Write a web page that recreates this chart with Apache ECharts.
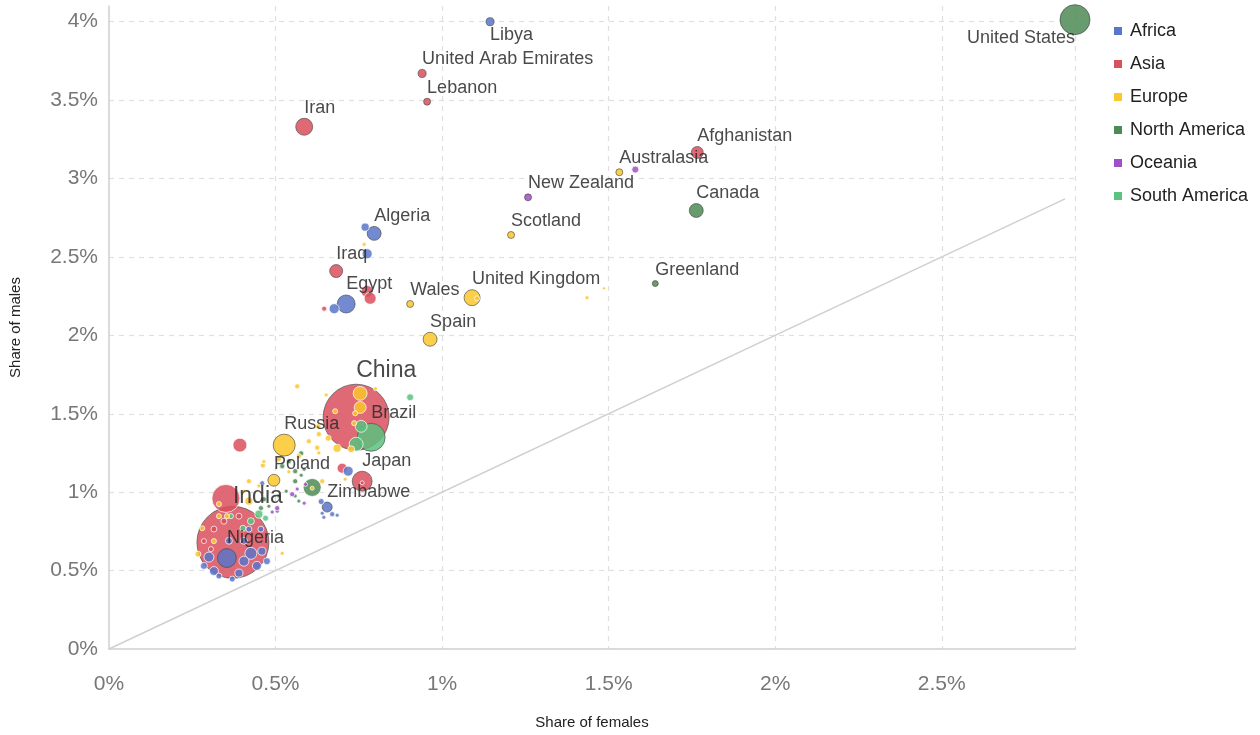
<!DOCTYPE html>
<html><head><meta charset="utf-8">
<script src="https://cdn.jsdelivr.net/npm/echarts@6/dist/echarts.min.js"></script>
<style>html,body{margin:0;padding:0;background:#fff}#c{width:1260px;height:735px}</style>
</head><body><div id="c"></div>
<script>
// [share of females %, share of males %, size value, name]
const africa = [
  [1.144, 4.00, 20, 'Libya'], [0.796, 2.65, 60, 'Algeria'], [0.769, 2.69, 20, ''], [0.775, 2.52, 31, ''],
  [0.712, 2.20, 100, 'Egypt'], [0.676, 2.17, 31, ''], [0.718, 1.134, 31, ''], [0.655, 0.905, 31, 'Zimbabwe'],
  [0.637, 0.94, 11, ''], [0.67, 0.86, 8, ''], [0.685, 0.853, 5, ''], [0.64, 0.866, 5, ''], [0.645, 0.84, 5, ''],
  [0.354, 0.58, 110, 'Nigeria'], [0.30, 0.586, 31, ''], [0.315, 0.497, 25, ''], [0.405, 0.56, 31, ''],
  [0.426, 0.61, 44, ''], [0.444, 0.53, 25, ''], [0.459, 0.624, 20, ''], [0.39, 0.484, 20, ''],
  [0.36, 0.69, 15, ''], [0.405, 0.69, 15, ''], [0.42, 0.764, 11, ''], [0.456, 0.764, 11, ''],
  [0.285, 0.53, 15, ''], [0.474, 0.56, 15, ''], [0.33, 0.465, 11, ''], [0.37, 0.446, 11, ''], [0.46, 1.057, 8, '']
];
const asia = [
  [0.372, 0.68, 1600, 'India'], [0.742, 1.478, 1344, 'China'], [0.351, 0.96, 242, ''], [0.76, 1.07, 123, 'Japan'],
  [0.586, 3.33, 89, 'Iran'], [0.682, 2.41, 52, 'Iraq'], [1.766, 3.166, 44, 'Afghanistan'], [0.393, 1.30, 60, ''],
  [0.775, 2.28, 44, ''], [0.784, 2.236, 44, ''], [0.70, 1.153, 31, ''], [0.94, 3.67, 20, 'United Arab Emirates'],
  [0.955, 3.49, 15, 'Lebanon'], [0.646, 2.17, 8, ''], [0.315, 0.765, 11, ''], [0.345, 0.815, 11, ''],
  [0.39, 0.847, 11, ''], [0.285, 0.688, 8, ''], [0.306, 0.637, 8, ''], [0.76, 1.06, 5, '']
];
const europe = [
  [0.526, 1.30, 149, 'Russia'], [1.09, 2.24, 79, 'United Kingdom'], [0.964, 1.975, 60, 'Spain'], [0.495, 1.076, 44, 'Poland'],
  [0.754, 1.63, 60, ''], [0.754, 1.54, 44, ''], [0.685, 1.28, 20, ''], [0.727, 1.274, 15, ''],
  [1.207, 2.64, 15, 'Scotland'], [0.904, 2.20, 15, 'Wales'], [1.532, 3.04, 15, 'Australasia'], [0.658, 1.344, 11, ''],
  [1.105, 2.236, 8, ''], [1.435, 2.24, 5, ''], [1.486, 2.30, 3, ''], [0.766, 2.58, 5, ''], [0.565, 1.675, 8, ''],
  [0.652, 1.62, 5, ''], [0.80, 1.66, 5, ''], [0.679, 1.516, 8, ''], [0.628, 1.42, 8, ''], [0.739, 1.503, 8, ''],
  [0.736, 1.44, 8, ''], [0.462, 1.17, 8, ''], [0.51, 1.21, 8, ''], [0.57, 1.23, 8, ''], [0.60, 1.325, 8, ''],
  [0.63, 1.25, 5, ''], [0.54, 1.13, 5, ''], [0.45, 1.04, 5, ''], [0.42, 1.07, 8, ''], [0.405, 1.006, 5, ''],
  [0.42, 0.943, 20, ''], [0.28, 0.77, 8, ''], [0.33, 0.847, 8, ''], [0.315, 0.688, 8, ''], [0.267, 0.605, 11, ''],
  [0.52, 0.61, 5, ''], [0.709, 1.083, 5, ''], [0.64, 1.07, 8, ''], [0.61, 1.025, 5, ''], [0.33, 0.924, 8, ''],
  [0.354, 0.847, 8, ''], [0.63, 1.37, 8, ''], [0.625, 1.284, 8, ''], [0.465, 1.195, 5, '']
];
const northAmerica = [
  [2.90, 4.013, 278, 'United States'], [0.61, 1.03, 100, ''], [1.763, 2.796, 60, 'Canada'], [1.64, 2.33, 11, 'Greenland'],
  [0.52, 1.166, 8, ''], [0.54, 1.197, 8, ''], [0.559, 1.134, 8, ''], [0.577, 1.108, 5, ''], [0.559, 1.07, 8, ''],
  [0.586, 1.146, 5, ''], [0.532, 1.006, 5, ''], [0.559, 0.975, 5, ''], [0.51, 0.975, 5, ''], [0.465, 0.955, 8, ''],
  [0.456, 0.898, 8, ''], [0.48, 0.91, 5, ''], [0.57, 0.943, 5, ''], [0.505, 0.879, 5, ''], [0.577, 1.248, 8, '']
];
const oceania = [
  [1.258, 2.88, 15, 'New Zealand'], [1.58, 3.057, 15, ''], [0.59, 1.05, 5, ''], [0.55, 0.987, 8, ''],
  [0.586, 0.93, 5, ''], [0.505, 0.898, 8, ''], [0.49, 0.873, 5, ''], [0.565, 1.02, 5, '']
];
const southAmerica = [
  [0.787, 1.35, 242, 'Brazil'], [0.742, 1.306, 60, ''], [0.757, 1.42, 44, ''], [0.904, 1.605, 15, ''],
  [0.45, 0.86, 20, ''], [0.47, 0.834, 11, ''], [0.426, 0.815, 15, ''], [0.402, 0.77, 11, ''], [0.366, 0.847, 8, '']
];
const parityLine = [[0, 0], [2.87, 2.87]];
const continents = ['Africa', 'Asia', 'Europe', 'North America', 'Oceania', 'South America'];

const FONT = "'Liberation Sans', Arial, sans-serif";
const colors = {
  'Africa': '#5a75c9', 'Asia': '#d9505e', 'Europe': '#fcc72c',
  'North America': '#4d8a55', 'Oceania': '#a04fc6', 'South America': '#5cc27e'
};
const labelOverrides = {
  'United States': { position: 'bottom', align: 'right', distance: 0, offset: [0, -6] },
  'Libya': { position: 'bottom', align: 'left', distance: 0 },
  'China': { fontSize: 23, distance: 2 },
  'India': { fontSize: 23, distance: -2 }
};
function build(arr) {
  const sorted = arr.slice().sort((a, b) => b[2] - a[2]);
  return sorted.map(d => {
    const item = { value: d, itemStyle: { borderColor: d[3] ? 'rgba(70,70,70,0.75)' : 'rgba(255,255,255,0.85)' } };
    if (labelOverrides[d[3]]) item.label = labelOverrides[d[3]];
    return item;
  });
}
const dataMap = { 'Africa': africa, 'Asia': asia, 'Europe': europe, 'North America': northAmerica, 'Oceania': oceania, 'South America': southAmerica };
const drawOrder = ['Asia', 'North America', 'South America', 'Africa', 'Europe', 'Oceania'];

const series = [{
  type: 'line', data: parityLine, symbol: 'none', silent: true, z: 1,
  lineStyle: { color: '#d0d0d0', width: 1.5 }, tooltip: { show: false }
}];
drawOrder.forEach(name => {
  series.push({
    name, type: 'scatter', data: build(dataMap[name]),
    symbolSize: v => 1.8 * Math.sqrt(v[2]),
    itemStyle: { color: colors[name], opacity: 0.85, borderWidth: 1 },
    label: {
      show: true, position: 'top', align: 'left', distance: 1,
      formatter: p => p.value[3] || '',
      color: '#2a2a2a', fontSize: 18, fontFamily: FONT
    },
    emphasis: { disabled: true }
  });
});

const chart = echarts.init(document.getElementById('c'), null, { renderer: 'canvas' });
chart.setOption({
  animation: false,
  color: continents.map(c => colors[c]),
  grid: { left: 109, right: 185, top: 6, bottom: 79, containLabel: false },
  legend: {
    data: continents, orient: 'vertical', left: 1109, top: 17,
    itemWidth: 8, itemHeight: 8, itemGap: 15, icon: 'rect',
    itemStyle: { borderWidth: 0, opacity: 1 },
    textStyle: { color: '#222', fontSize: 18, fontFamily: FONT, padding: [0, 0, 0, 3] }
  },
  xAxis: {
    type: 'value', min: 0, max: 2.9, interval: 0.5,
    name: 'Share of females', nameLocation: 'middle', nameGap: 66,
    nameTextStyle: { color: '#222', fontSize: 15, fontFamily: FONT },
    axisLine: { show: true, lineStyle: { color: '#cfcfcf', width: 1.5 } },
    axisTick: { show: false },
    axisLabel: { color: '#777', fontSize: 21, fontFamily: FONT, margin: 25, showMaxLabel: false,
      formatter: v => (Math.round(v * 10) / 10) + '%' },
    splitLine: { show: true, showMinLine: false, lineStyle: { color: '#e0e0e0', type: [5, 5], width: 1.2 } }
  },
  yAxis: {
    type: 'value', min: 0, max: 4.1, interval: 0.5,
    name: 'Share of males', nameLocation: 'middle', nameGap: 86,
    nameTextStyle: { color: '#222', fontSize: 15, fontFamily: FONT },
    axisLine: { show: true, lineStyle: { color: '#cfcfcf', width: 1.5 } },
    axisTick: { show: false },
    axisLabel: { color: '#777', fontSize: 21, fontFamily: FONT, margin: 11, showMaxLabel: false,
      formatter: v => (Math.round(v * 10) / 10) + '%' },
    splitLine: { show: true, showMinLine: false, showMaxLine: false, lineStyle: { color: '#e0e0e0', type: [5, 5], width: 1.2 } }
  },
  series
});
</script>
</body></html>
